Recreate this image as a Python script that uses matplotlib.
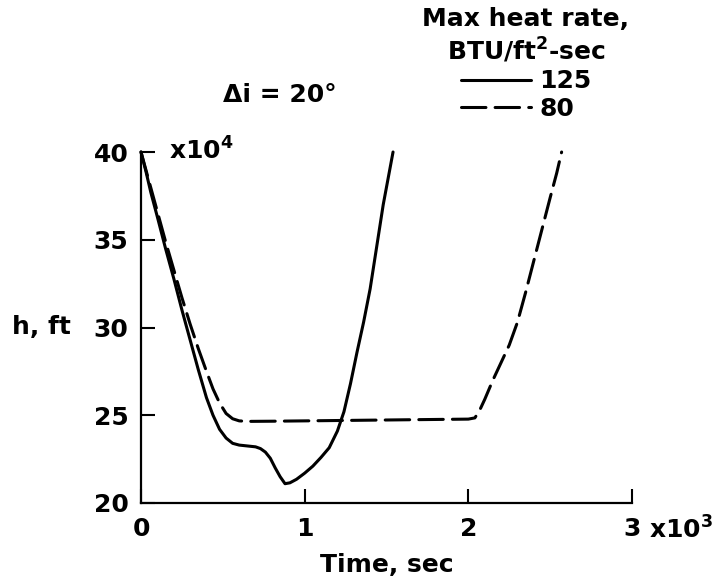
import numpy as np
import matplotlib
matplotlib.use('Agg')
import matplotlib.pyplot as plt

# tempo em 10^3 s, altitude em 10^4 ft
tempo_125 = [0, 0.03, 0.06, 0.10, 0.15, 0.20, 0.25, 0.30, 0.35, 0.40,
             0.44, 0.48, 0.52, 0.56, 0.60, 0.65, 0.70, 0.73, 0.76, 0.79,
             0.82, 0.85, 0.88, 0.91, 0.95, 1.00, 1.05, 1.10, 1.15, 1.20,
             1.24, 1.28, 1.32, 1.36, 1.40, 1.44, 1.48, 1.51, 1.54]
altura_125 = [40, 38.9, 37.7, 36.3, 34.5, 32.8, 31.0, 29.3, 27.6, 26.0,
              25.0, 24.2, 23.7, 23.4, 23.3, 23.25, 23.2, 23.1, 22.9, 22.55,
              22.0, 21.5, 21.1, 21.15, 21.35, 21.7, 22.1, 22.6, 23.15, 24.1,
              25.2, 26.8, 28.6, 30.3, 32.2, 34.6, 37.0, 38.5, 40]

tempo_80 = [0, 0.05, 0.10, 0.15, 0.20, 0.25, 0.30, 0.35, 0.40, 0.44,
            0.48, 0.52, 0.56, 0.60, 0.65, 0.80, 1.00, 1.20, 1.40, 1.60,
            1.80, 2.00, 2.04, 2.07, 2.10, 2.15, 2.20, 2.25, 2.30, 2.35,
            2.40, 2.45, 2.50, 2.54, 2.57]
altura_80 = [40, 38.3, 36.6, 34.9, 33.3, 31.7, 30.2, 28.8, 27.5, 26.5,
             25.7, 25.1, 24.8, 24.68, 24.65, 24.66, 24.68, 24.7, 24.72, 24.74,
             24.76, 24.78, 24.85, 25.3, 25.9, 27.0, 28.0, 29.0, 30.3, 32.0,
             33.8, 35.6, 37.4, 38.8, 40]

ticks_x = [0, 1, 2, 3]
ticks_y = [20, 25, 30, 35, 40]

plt.rcParams['font.family'] = ['DejaVu Sans']
plt.rcParams['font.weight'] = 'bold'
plt.rcParams['axes.labelweight'] = 'bold'
plt.rcParams['font.size'] = 18
plt.rcParams['mathtext.fontset'] = 'dejavusans'
plt.rcParams['mathtext.default'] = 'bf'

fig = plt.figure(figsize=(7.25, 5.83), dpi=100)
ax = fig.add_axes([141 / 725, 1 - 503 / 583, (632 - 141) / 725, (503 - 152) / 583])

ax.plot(tempo_125, altura_125, color='black', lw=2.2, clip_on=False,
        solid_capstyle='round', solid_joinstyle='round', label='125')
ax.plot(tempo_80, altura_80, color='black', lw=2.2, clip_on=False,
        dashes=(8, 3), dash_capstyle='round', label='80')

ax.set_xlim(0, 3)
ax.set_ylim(20, 40)
ax.set_xticks(ticks_x)
ax.set_yticks(ticks_y)
ax.spines['top'].set_visible(False)
ax.spines['right'].set_visible(False)
for lado in ['left', 'bottom']:
    ax.spines[lado].set_linewidth(1.6)
ax.tick_params(direction='in', length=10, width=1.5, labelsize=18)
ax.tick_params(axis='x', pad=10)
ax.tick_params(axis='y', pad=9)

ax.set_xlabel('Time, sec', fontsize=18, labelpad=9)
fig.text(12 / 725, 1 - 327 / 583, 'h, ft', ha='left', va='center', fontsize=18)

# fatores de escala dos eixos
ax.annotate('x10$^4$', xy=(0, 40), xytext=(20, 1), textcoords='offset points',
            ha='left', va='center', fontsize=18)
ax.annotate('x10$^3$', xy=(3, 20), xytext=(12, -10), textcoords='offset points',
            ha='left', va='top', fontsize=18)

fig.text(280 / 725, 1 - 95 / 583, 'Δi = 20°', ha='center', va='center', fontsize=18)

leg = ax.legend(title='Max heat rate,\nBTU/ft$^2$-sec', loc='upper center',
                bbox_to_anchor=(526 / 725, 1 + 5 / 583), bbox_transform=fig.transFigure,
                frameon=False, handlelength=2.8, handletextpad=0.35, labelspacing=0.15,
                borderpad=0, fontsize=18, title_fontsize=18)
leg.get_title().set_fontweight('bold')
leg.get_title().set_multialignment('center')

fig.savefig('out.png', dpi=100)
